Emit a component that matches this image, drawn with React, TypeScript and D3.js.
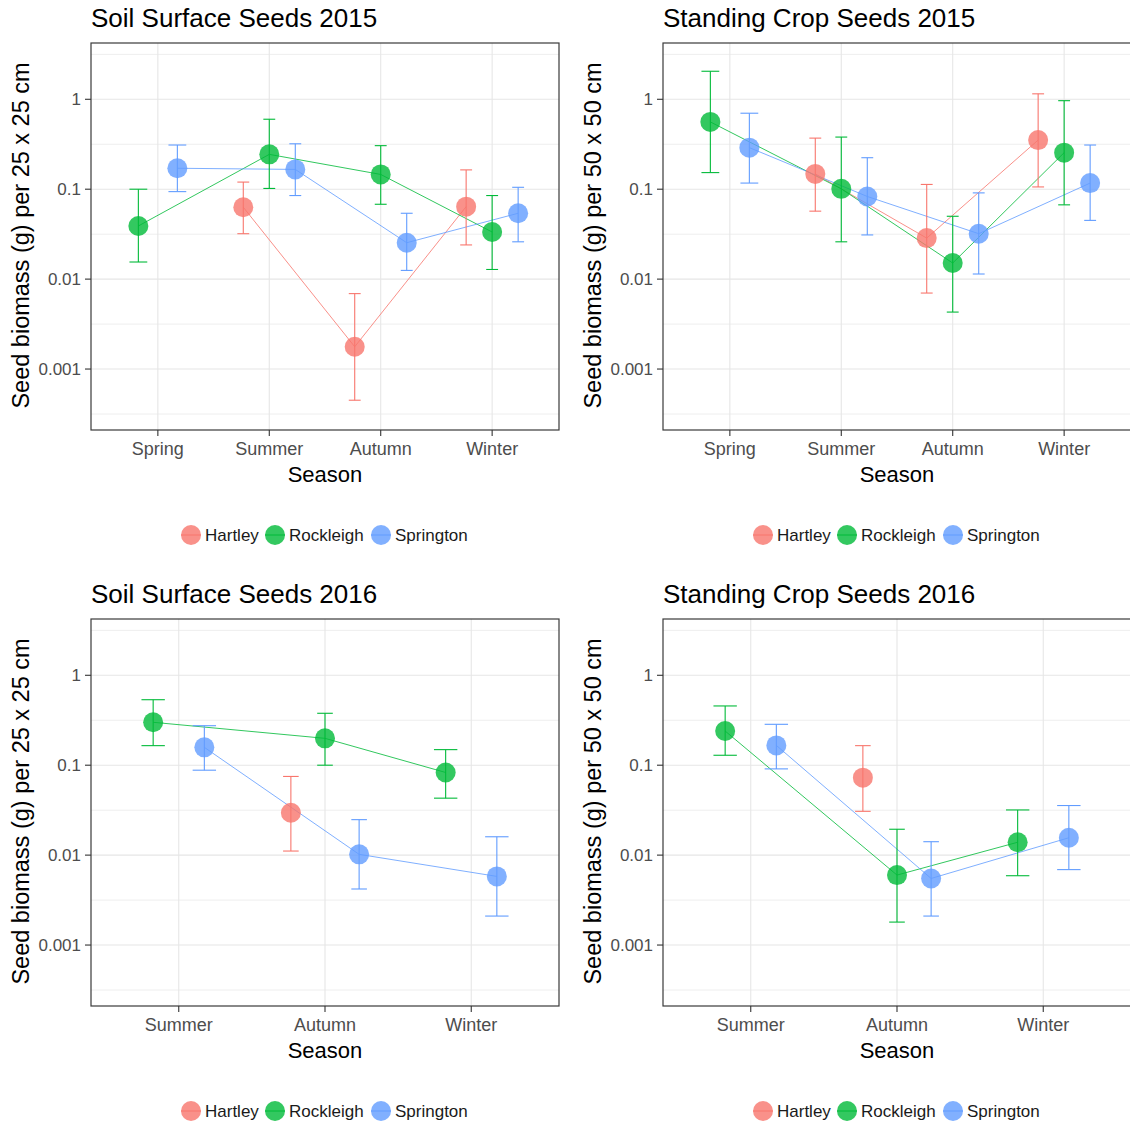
import * as d3 from "d3";

type Est = [number, number, number] | null; // mean, lower, upper

const sites = ["Hartley", "Rockleigh", "Springton"];
const siteColors = ["#F8766D", "#00BA38", "#619CFF"];
const seasons2015 = ["Spring", "Summer", "Autumn", "Winter"];
const seasons2016 = ["Summer", "Autumn", "Winter"];
const yTicks = [0.001, 0.01, 0.1, 1];
const yTickLabels = ["0.001", "0.01", "0.1", "1"];
const yMinor = [0.000316, 0.00316, 0.0316, 0.316, 3.16];

const soil2015Hartley: Est[] = [null, [0.063, 0.032, 0.12], [0.00177, 0.00045, 0.0069], [0.064, 0.024, 0.164]];
const soil2015Rockleigh: Est[] = [[0.039, 0.0155, 0.1], [0.244, 0.102, 0.6], [0.146, 0.068, 0.305], [0.0334, 0.0128, 0.085]];
const soil2015Springton: Est[] = [[0.171, 0.094, 0.31], [0.166, 0.085, 0.32], [0.0254, 0.0125, 0.054], [0.054, 0.026, 0.105]];

const crop2015Hartley: Est[] = [null, [0.148, 0.057, 0.37], [0.0286, 0.007, 0.113], [0.352, 0.106, 1.15]];
const crop2015Rockleigh: Est[] = [[0.56, 0.153, 2.05], [0.101, 0.026, 0.38], [0.0151, 0.0043, 0.05], [0.255, 0.067, 0.965]];
const crop2015Springton: Est[] = [[0.29, 0.117, 0.7], [0.083, 0.031, 0.224], [0.032, 0.0114, 0.091], [0.117, 0.045, 0.31]];

const soil2016Hartley: Est[] = [null, [0.0296, 0.0111, 0.075], null];
const soil2016Rockleigh: Est[] = [[0.3, 0.165, 0.535], [0.199, 0.1, 0.378], [0.083, 0.043, 0.149]];
const soil2016Springton: Est[] = [[0.158, 0.088, 0.275], [0.0102, 0.0042, 0.0248], [0.0058, 0.0021, 0.016]];

const crop2016Hartley: Est[] = [null, [0.0727, 0.0307, 0.165], null];
const crop2016Rockleigh: Est[] = [[0.24, 0.129, 0.456], [0.006, 0.0018, 0.0194], [0.0139, 0.0059, 0.0318]];
const crop2016Springton: Est[] = [[0.166, 0.091, 0.285], [0.0055, 0.0021, 0.0141], [0.0156, 0.0069, 0.0356]];

const FONT = "'Liberation Sans', Arial, sans-serif";

function Panel({ dx, dy, title, yLabel, seasons, series }: {
  dx: number; dy: number; title: string; yLabel: string; seasons: string[]; series: Est[][];
}) {
  const left = 91, right = 559, top = 43, bottom = 430;
  const x = d3.scalePoint<string>().domain(seasons).range([left, right]).padding(0.6);
  const step = x.step();
  const y = d3.scaleLog().domain([Math.pow(10, -3.678), Math.pow(10, 0.626)]).range([bottom, top]);

  // dodge: groups present at each season share 0.7 of a step
  const xPos = (si: number, ci: number) => {
    const present = series.map((s, k) => (s[ci] ? k : -1)).filter(k => k >= 0);
    const n = present.length;
    const idx = present.indexOf(si);
    return (x(seasons[ci]) as number) + (idx - (n - 1) / 2) * (0.7 / n) * step;
  };
  const capHalf = (ci: number) => {
    const n = series.filter(s => s[ci]).length;
    return (0.32 / n) * step / 2;
  };

  const line = d3.line<[number, number]>().x(d => d[0]).y(d => d[1]);
  const cx = (left + right) / 2;
  const legendOffsets = [-134, -50, 56];

  return (
    <g transform={`translate(${dx},${dy})`} fontFamily={FONT}>
      <text x={left} y={27} fontSize={26} fill="#000">{title}</text>
      <rect x={left} y={top} width={right - left} height={bottom - top} fill="#fff" />
      {yMinor.map(v => (
        <line key={"m" + v} x1={left} x2={right} y1={y(v)} y2={y(v)} stroke="#EEEEEE" strokeWidth={1} />
      ))}
      {yTicks.map(v => (
        <line key={"g" + v} x1={left} x2={right} y1={y(v)} y2={y(v)} stroke="#E6E6E6" strokeWidth={1.1} />
      ))}
      {seasons.map(s => (
        <line key={"v" + s} x1={x(s)} x2={x(s)} y1={top} y2={bottom} stroke="#E6E6E6" strokeWidth={1.1} />
      ))}
      {series.map((s, si) => {
        const pts = s.map((e, ci) => (e ? [xPos(si, ci), y(e[0])] as [number, number] : null))
          .filter(p => p) as [number, number][];
        return pts.length > 1 ? (
          <path key={"l" + si} d={line(pts) as string} fill="none" stroke={siteColors[si]} strokeWidth={0.9} strokeOpacity={0.9} />
        ) : null;
      })}
      {series.map((s, si) => s.map((e, ci) => {
        if (!e) return null;
        const px = xPos(si, ci);
        const h = capHalf(ci);
        return (
          <g key={`e${si}-${ci}`} stroke={siteColors[si]} strokeWidth={1.1}>
            <line x1={px} x2={px} y1={y(e[1])} y2={y(e[2])} />
            <line x1={px - h} x2={px + h} y1={y(e[1])} y2={y(e[1])} />
            <line x1={px - h} x2={px + h} y1={y(e[2])} y2={y(e[2])} />
          </g>
        );
      }))}
      {series.map((s, si) => s.map((e, ci) => e ? (
        <circle key={`p${si}-${ci}`} cx={xPos(si, ci)} cy={y(e[0])} r={10} fill={siteColors[si]} fillOpacity={0.8} />
      ) : null))}
      <rect x={left} y={top} width={right - left} height={bottom - top} fill="none" stroke="#3a3a3a" strokeWidth={1.2} />
      {yTicks.map((v, i) => (
        <g key={"t" + v}>
          <line x1={left - 6} x2={left} y1={y(v)} y2={y(v)} stroke="#333" strokeWidth={1.1} />
          <text x={left - 10} y={y(v)} dy="0.35em" textAnchor="end" fontSize={17} fill="#4D4D4D">{yTickLabels[i]}</text>
        </g>
      ))}
      {seasons.map(s => (
        <g key={"xt" + s}>
          <line x1={x(s)} x2={x(s)} y1={bottom} y2={bottom + 6} stroke="#333" strokeWidth={1.1} />
          <text x={x(s)} y={455} textAnchor="middle" fontSize={18} fill="#4D4D4D">{s}</text>
        </g>
      ))}
      <text x={cx} y={482} textAnchor="middle" fontSize={22} fill="#000">Season</text>
      <text transform={`translate(29,${(top + bottom) / 2 - 1}) rotate(-90)`} textAnchor="middle" fontSize={23.5} fill="#000">{yLabel}</text>
      {sites.map((name, i) => (
        <g key={"lg" + name} transform={`translate(${cx + legendOffsets[i]},535)`}>
          <line x1={-10} x2={10} y1={0} y2={0} stroke={siteColors[i]} strokeWidth={1} />
          <circle cx={0} cy={0} r={10} fill={siteColors[i]} fillOpacity={0.8} />
          <text x={14} y={0} dy="0.35em" fontSize={17} fill="#1A1A1A">{name}</text>
        </g>
      ))}
    </g>
  );
}

export default function App() {
  return (
    <svg width={1130} height={1126} style={{ position: "absolute", left: 0, top: 0, background: "#fff" }}>
      <rect width={1130} height={1126} fill="#fff" />
      <Panel dx={0} dy={0} title="Soil Surface Seeds 2015" yLabel="Seed biomass (g) per 25 x 25 cm"
        seasons={seasons2015} series={[soil2015Hartley, soil2015Rockleigh, soil2015Springton]} />
      <Panel dx={572} dy={0} title="Standing Crop Seeds 2015" yLabel="Seed biomass (g) per 50 x 50 cm"
        seasons={seasons2015} series={[crop2015Hartley, crop2015Rockleigh, crop2015Springton]} />
      <Panel dx={0} dy={576} title="Soil Surface Seeds 2016" yLabel="Seed biomass (g) per 25 x 25 cm"
        seasons={seasons2016} series={[soil2016Hartley, soil2016Rockleigh, soil2016Springton]} />
      <Panel dx={572} dy={576} title="Standing Crop Seeds 2016" yLabel="Seed biomass (g) per 50 x 50 cm"
        seasons={seasons2016} series={[crop2016Hartley, crop2016Rockleigh, crop2016Springton]} />
    </svg>
  );
}
